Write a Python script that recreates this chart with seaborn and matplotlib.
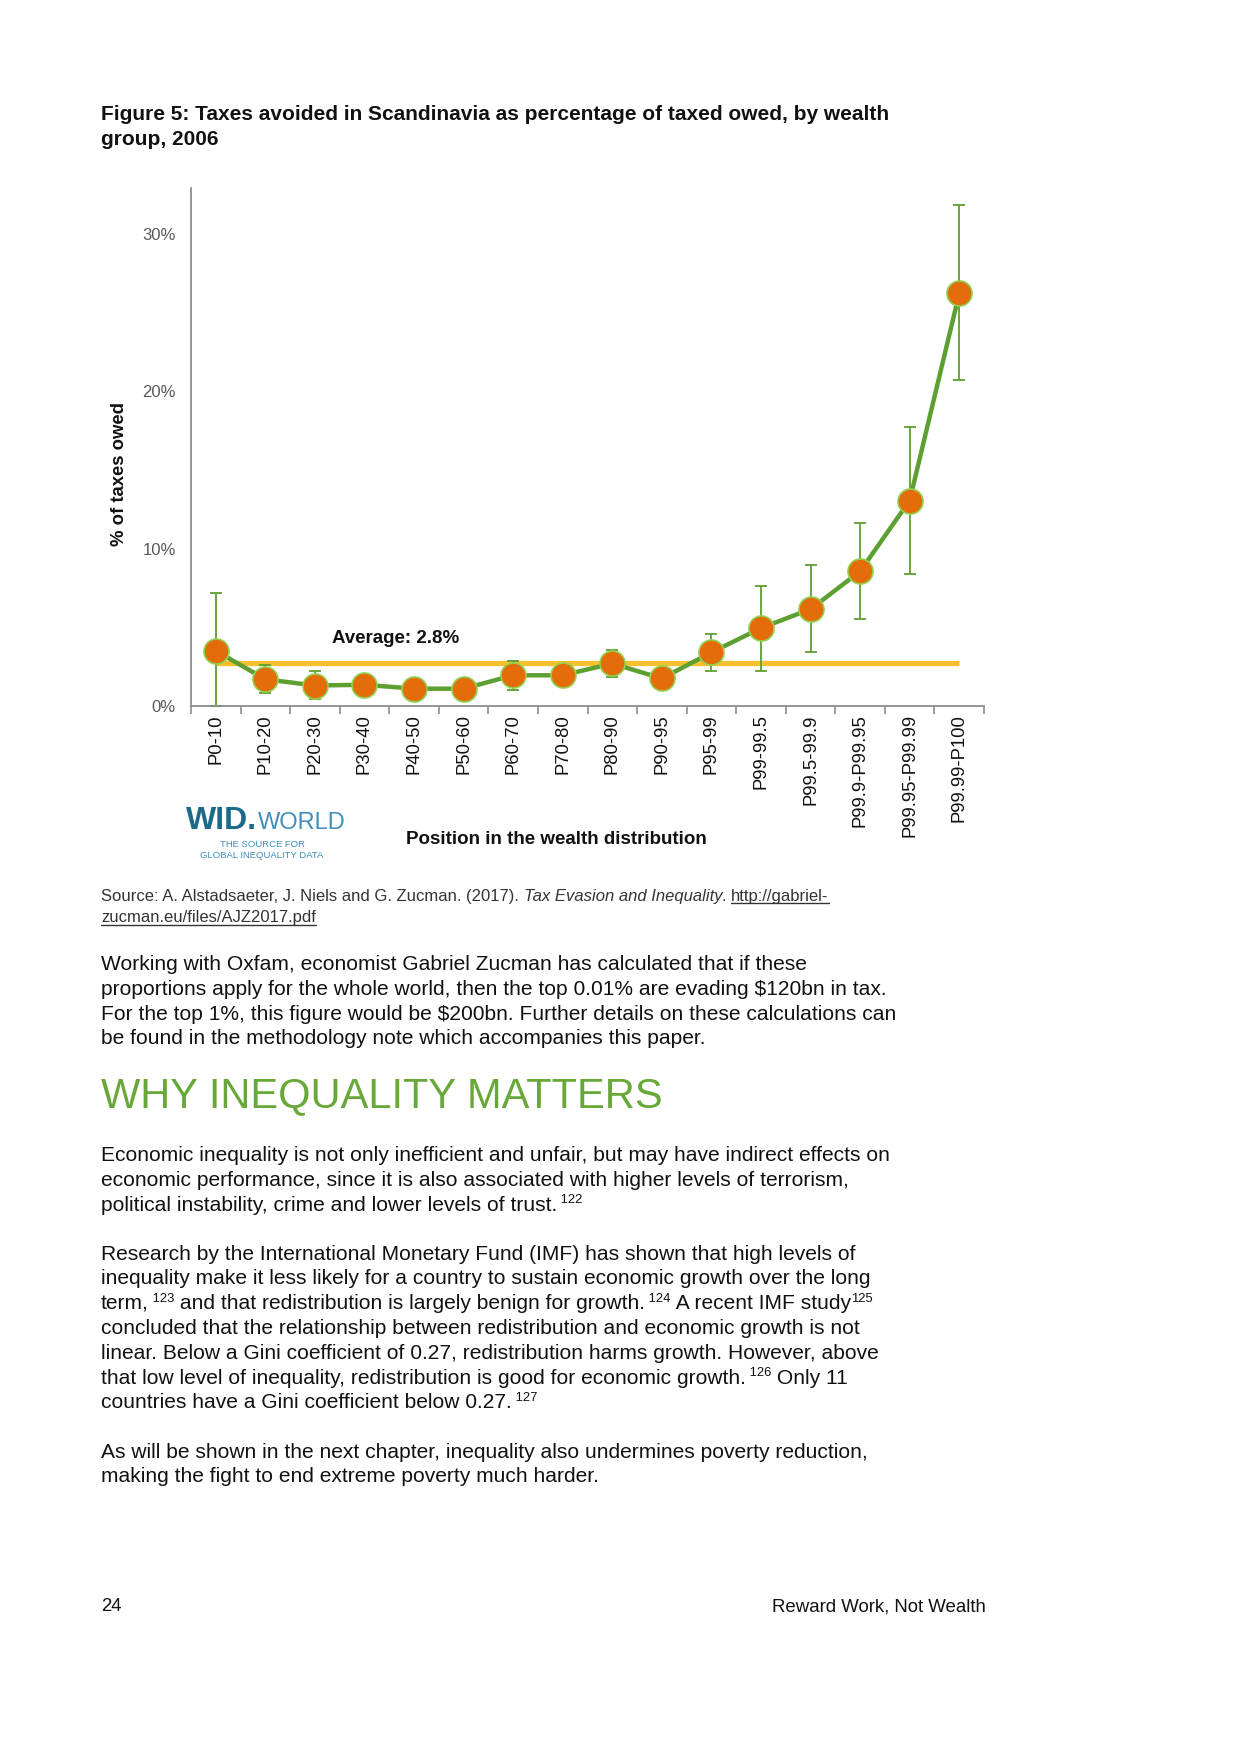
import matplotlib
matplotlib.use('Agg')
import matplotlib.pyplot as plt
import seaborn as sns
import numpy as np
import pandas as pd
from matplotlib.font_manager import FontProperties
from matplotlib.lines import Line2D

# ---- data ----
groups = ['P0-10', 'P10-20', 'P20-30', 'P30-40', 'P40-50', 'P50-60', 'P60-70',
          'P70-80', 'P80-90', 'P90-95', 'P95-99', 'P99-99.5', 'P99.5-99.9',
          'P99.9-P99.95', 'P99.95-P99.99', 'P99.99-P100']
avoided = [3.5, 1.7, 1.3, 1.35, 1.1, 1.1, 1.95, 1.95, 2.7, 1.75, 3.4, 4.95, 6.15, 8.55, 13.05, 26.2]
err_low = [0.0, 0.85, 0.45, 0.7, 0.6, 0.6, 1.0, 1.4, 1.85, 1.2, 2.25, 2.25, 3.45, 5.5, 8.4, 20.7]
err_high = [7.2, 2.6, 2.25, 2.0, 1.6, 1.6, 2.85, 2.5, 3.55, 2.3, 4.55, 7.6, 8.95, 11.6, 17.7, 31.8]
average_value = 2.7
average_label = 'Average: 2.8%'
y_ticks = [0, 10, 20, 30]
y_tick_labels = ['0%', '10%', '20%', '30%']

title_lines = ['Figure 5: Taxes avoided in Scandinavia as percentage of taxed owed, by wealth',
               'group, 2006']

para1 = ['Working with Oxfam, economist Gabriel Zucman has calculated that if these',
         'proportions apply for the whole world, then the top 0.01% are evading $120bn in tax.',
         'For the top 1%, this figure would be $200bn. Further details on these calculations can',
         'be found in the methodology note which accompanies this paper.']
para2 = [[('Economic inequality is not only inefficient and unfair, but may have indirect effects on', 'n')],
         [('economic performance, since it is also associated with higher levels of terrorism,', 'n')],
         [('political instability, crime and lower levels of trust.', 'n'), (' 122', 's')]]
para3 = [[('Research by the International Monetary Fund (IMF) has shown that high levels of', 'n')],
         [('inequality make it less likely for a country to sustain economic growth over the long', 'n')],
         [('term,', 'n'), (' 123', 's'), (' and that redistribution is largely benign for growth.', 'n'),
          (' 124', 's'), (' A recent IMF study', 'n'), ('125', 's')],
         [('concluded that the relationship between redistribution and economic growth is not', 'n')],
         [('linear. Below a Gini coefficient of 0.27, redistribution harms growth. However, above', 'n')],
         [('that low level of inequality, redistribution is good for economic growth.', 'n'), (' 126', 's'),
          (' Only 11', 'n')],
         [('countries have a Gini coefficient below 0.27.', 'n'), (' 127', 's')]]
para4 = ['As will be shown in the next chapter, inequality also undermines poverty reduction,',
         'making the fight to end extreme poverty much harder.']

sns.set_theme(style='white')
plt.rcParams['font.family'] = ['Liberation Sans', 'DejaVu Sans']

W, H = 1240, 1754
GREEN = '#5E9F32'
ORANGE = '#E46C0A'
TEXT = '#111111'


def fx(x):
    return x / W


def fy(y):
    return 1 - y / H


fig = plt.figure(figsize=(W / 100, H / 100), dpi=100)
fig.patch.set_facecolor('white')
renderer = fig.canvas.get_renderer()

# ---- chart ----
ax_left, ax_right, ax_top, ax_bottom = 191, 984, 188, 706
ax = fig.add_axes([fx(ax_left), fy(ax_bottom), (ax_right - ax_left) / W, (ax_bottom - ax_top) / H])
ax.set_facecolor('white')

df = pd.DataFrame({'group': groups, 'avoided': avoided, 'low': err_low, 'high': err_high})
pos = np.arange(len(groups))

sns.lineplot(data=df, x='group', y='avoided', sort=False, color=GREEN, lw=3.2,
             marker='o', markersize=18, markerfacecolor=ORANGE, markeredgecolor='#92D050',
             markeredgewidth=1.2, ax=ax, zorder=4)
ax.errorbar(pos, df['avoided'], yerr=[df['avoided'] - df['low'], df['high'] - df['avoided']],
            fmt='none', ecolor=GREEN, elinewidth=1.3, capsize=4, capthick=1.3, zorder=2)
ax.hlines(average_value, pos[0], pos[-1], color='#FBC02D', lw=3.8, zorder=1)
ax.text(2.35, average_value + 1.6, average_label, fontsize=13.5, fontweight='bold',
        color=TEXT, va='center', ha='left')

ax.set_xlim(-0.5, len(groups) - 0.5)
ax.set_ylim(0, 32.9)
ax.set_xticks(pos)
ax.set_xticklabels(groups, rotation=90, fontsize=13.3, color=TEXT)
ax.set_xticks(np.arange(len(groups) + 1) - 0.5, minor=True)
ax.tick_params(axis='x', which='major', length=0, pad=6)
ax.tick_params(axis='x', which='minor', length=6, width=1.2, color='#8c8c8c', direction='out', bottom=True)
ax.set_yticks(y_ticks)
ax.set_yticklabels(y_tick_labels, fontsize=12, color='#595959')
ax.tick_params(axis='y', length=0, pad=11)
ax.set_xlabel('')
ax.set_ylabel('')
for side in ['top', 'right']:
    ax.spines[side].set_visible(False)
for side in ['left', 'bottom']:
    ax.spines[side].set_color('#8c8c8c')
    ax.spines[side].set_linewidth(1.3)
ax.grid(False)

fig.text(fx(120), fy(474), '% of taxes owed', rotation=90, fontsize=13.3, fontweight='bold',
         color=TEXT, ha='center', va='center')
fig.text(fx(556), fy(840), 'Position in the wealth distribution', fontsize=13.5,
         fontweight='bold', color=TEXT, ha='center', va='center')

# ---- logo ----
wid_fp = FontProperties(family='Liberation Sans', weight='bold', size=23)
fig.text(fx(186), fy(829), 'WID.', fontproperties=wid_fp, color='#1B6A8A', va='baseline')
wid_w = renderer.get_text_width_height_descent('|WID.|', wid_fp, ismath=False)[0] - \
    renderer.get_text_width_height_descent('||', wid_fp, ismath=False)[0]
fig.text(fx(186 + wid_w + 1), fy(829), 'WORLD', fontsize=17, fontweight='light',
         color='#3F8FB8', va='baseline')
fig.text(fx(262), fy(844), 'THE SOURCE FOR', fontsize=6.8, color='#3F8FB8', ha='center', va='center')
fig.text(fx(262), fy(855), 'GLOBAL INEQUALITY DATA', fontsize=6.8, color='#3F8FB8', ha='center', va='center')


# ---- page text ----
def width(s, fp):
    a = renderer.get_text_width_height_descent('|' + s + '|', fp, ismath=False)[0]
    b = renderer.get_text_width_height_descent('||', fp, ismath=False)[0]
    return a - b


def draw_runs(x, base, runs, color=TEXT):
    for s, fp, rise, underline in runs:
        fig.text(fx(x), fy(base - rise), s, fontproperties=fp, color=color,
                 va='baseline', ha='left', parse_math=False)
        w = width(s, fp)
        if underline:
            fig.add_artist(Line2D([fx(x), fx(x + w)], [fy(base + 2.5), fy(base + 2.5)],
                                  color=color, lw=1.0, transform=fig.transFigure))
        x += w


body_fp = FontProperties(family='Liberation Sans', size=15.1)
sup_fp = FontProperties(family='Liberation Sans', size=9.4)
title_fp = FontProperties(family='Liberation Sans', size=15.0, weight='bold')

LEFT = 101
for i, line in enumerate(title_lines):
    draw_runs(LEFT, 120.5 + 24.5 * i, [(line, title_fp, 0, False)])

src_fp = FontProperties(family='Liberation Sans', size=12)
src_it = FontProperties(family='Liberation Sans', size=12, style='italic')
draw_runs(LEFT, 901, [('Source: A. Alstadsaeter, J. Niels and G. Zucman. (2017). ', src_fp, 0, False),
                      ('Tax Evasion and Inequality', src_it, 0, False),
                      ('. ', src_fp, 0, False),
                      ('http://gabriel-', src_fp, 0, True)], color='#333333')
draw_runs(LEFT, 922, [('zucman.eu/files/AJZ2017.pdf', src_fp, 0, True)], color='#333333')


def draw_para(lines, first_base):
    for i, line in enumerate(lines):
        if isinstance(line, str):
            runs = [(line, body_fp, 0, False)]
        else:
            runs = [(s, sup_fp if k == 's' else body_fp, 7.5 if k == 's' else 0, False) for s, k in line]
        draw_runs(LEFT, first_base + 24.8 * i, runs)


draw_para(para1, 970)
fig.text(fx(LEFT), fy(1107), 'WHY INEQUALITY MATTERS', fontsize=30, color='#67A839',
         ha='left', va='baseline')
draw_para(para2, 1161)
draw_para(para3, 1259.5)
draw_para(para4, 1457.5)

fig.text(fx(LEFT), fy(1611), '24', fontsize=13.4, color=TEXT, ha='left', va='baseline')
fig.text(fx(986), fy(1611), 'Reward Work, Not Wealth', fontsize=13.4, color=TEXT, ha='right', va='baseline')

fig.savefig('out.png', dpi=100, facecolor='white')
